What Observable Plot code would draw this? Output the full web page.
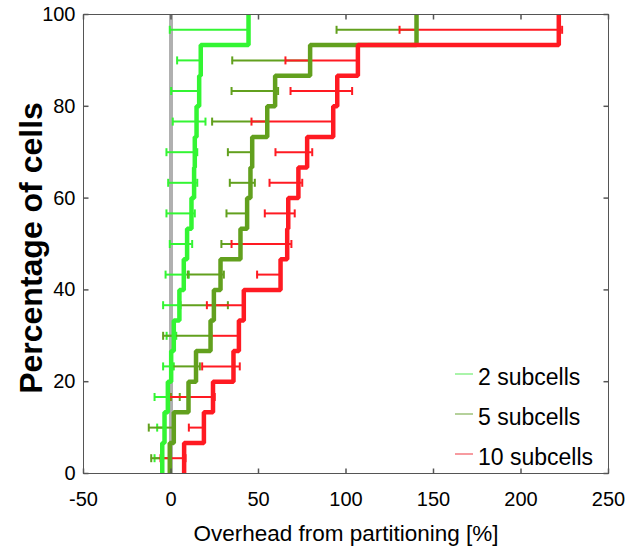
<!DOCTYPE html>
<html>
<head>
<meta charset="utf-8">
<script src="https://cdn.jsdelivr.net/npm/d3@7"></script>
<script src="https://cdn.jsdelivr.net/npm/@observablehq/plot@0.6"></script>
<style>
  body { margin: 0; background: #fff; }
  #chart svg { font-family: "Liberation Sans", Arial, Helvetica, sans-serif; }
</style>
</head>
<body>
<div id="chart"></div>
<script>
// Series shown: overhead per cell (sorted), with min/max range per cell.
const seriesNames = ["2 subcells", "5 subcells", "10 subcells"];
const seriesColors = ["#33f533", "#62a01e", "#ff1a22"];
const legendColors = ["#8ef08e", "#9cc27a", "#f47a80"];

// 2 subcells
const overhead2 = [-5, -3.7, -1.8, 0.1, 1.6, 4.8, 7.3, 9.2, 11.7, 13.2, 13.6, 14.6, 16.1, 17, 44.3];
const low2      = [-9.4, -7.9, -9.4, -4.5, -2.5, -4.5, -3.1, -0.7, -2.6, -1.6, -2.6, 1.0, 0.1, 3.5, -0.7];
const high2     = [-5, -3.7, -0.5, 1.6, 3, 5, 10.2, 12.1, 13.6, 15, 15, 19.7, 16.1, 17, 44.3];

// 5 subcells
const overhead5 = [-0.7, 1.6, 10, 14.3, 22.6, 24.5, 28.3, 39.7, 43.5, 45.4, 46.4, 55, 59.5, 79.5, 140.3];
const low5      = [-11.3, -12.7, 0, 0.7, -4.5, 5.4, 9.6, 28.8, 31.7, 33.6, 32.5, 23.5, 34.6, 35, 94.6];
const high5     = [-0.7, 1.6, 5, 16.5, 22.6, 32.5, 30.2, 39.7, 43.5, 47.9, 46.4, 55, 61.2, 79.5, 140.3];

// 10 subcells
const overhead10 = [7.5, 18.8, 24, 35.7, 38.8, 41.6, 62.6, 66.4, 67, 72.8, 77.8, 92.7, 95, 106.8, 221.6];
const low10      = [-6, 10.2, -0.9, 17.8, 23, 20.5, 49.2, 34.6, 53.6, 56.3, 59.7, 46, 68.3, 65.4, 130.6];
const high10     = [8.3, 18.8, 25, 39.3, 38.8, 41.6, 62.6, 68.8, 70.7, 75, 80.7, 92.7, 103.5, 106.8, 223.5];

const xTicks = [-50, 0, 50, 100, 150, 200, 250];
const yTicks = [0, 20, 40, 60, 80, 100];

const series = [
  {name: seriesNames[0], color: seriesColors[0], v: overhead2, lo: low2, hi: high2},
  {name: seriesNames[1], color: seriesColors[1], v: overhead5, lo: low5, hi: high5},
  {name: seriesNames[2], color: seriesColors[2], v: overhead10, lo: low10, hi: high10}
];

// Empirical CDF as a staircase: each cell occupies one 1/n band of the y axis.
function stairs(s) {
  const n = s.v.length, pts = [];
  s.v.forEach((x, i) => {
    pts.push({x, y: i * 100 / n});
    pts.push({x, y: (i + 1) * 100 / n});
  });
  return pts;
}
function ranges(s) {
  const n = s.v.length;
  return s.v.map((x, i) => ({lo: s.lo[i], hi: s.hi[i], y: (i + 0.5) * 100 / n}));
}

// Vertical cap for the range bars, and inward tick shapes for the frame.
const cap = {draw(ctx, size) { const h = Math.sqrt(size / Math.PI); ctx.moveTo(0, -h); ctx.lineTo(0, h); }};
const tickUp = {draw(ctx, size) { const h = Math.sqrt(size / Math.PI); ctx.moveTo(0, 0); ctx.lineTo(0, -h); }};
const tickDown = {draw(ctx, size) { const h = Math.sqrt(size / Math.PI); ctx.moveTo(0, 0); ctx.lineTo(0, h); }};
const tickRight = {draw(ctx, size) { const h = Math.sqrt(size / Math.PI); ctx.moveTo(0, 0); ctx.lineTo(h, 0); }};
const tickLeft = {draw(ctx, size) { const h = Math.sqrt(size / Math.PI); ctx.moveTo(0, 0); ctx.lineTo(-h, 0); }};

const marks = [
  Plot.ruleX([0], {y1: 0, y2: 100, stroke: "#b0b0b0", strokeWidth: 4}),
];
for (const s of series) {
  const r = ranges(s);
  marks.push(
    Plot.ruleY(r, {y: "y", x1: "lo", x2: "hi", stroke: s.color, strokeWidth: 2}),
    Plot.dot(r, {x: "lo", y: "y", symbol: cap, r: 4, stroke: s.color, strokeWidth: 2, fill: "none"}),
    Plot.dot(r, {x: "hi", y: "y", symbol: cap, r: 4, stroke: s.color, strokeWidth: 2, fill: "none"})
  );
}
for (const s of series) {
  marks.push(Plot.line(stairs(s), {x: "x", y: "y", stroke: s.color, strokeWidth: 4.5, strokeLinejoin: "miter", strokeLinecap: "butt"}));
}
marks.push(
  Plot.frame({stroke: "#555", strokeWidth: 1}),
  Plot.dot(xTicks, {x: d => d, frameAnchor: "bottom", symbol: tickUp, r: 5, stroke: "#555", fill: "none"}),
  Plot.dot(xTicks, {x: d => d, frameAnchor: "top", symbol: tickDown, r: 5, stroke: "#555", fill: "none"}),
  Plot.dot(yTicks, {y: d => d, frameAnchor: "left", symbol: tickRight, r: 5, stroke: "#555", fill: "none"}),
  Plot.dot(yTicks, {y: d => d, frameAnchor: "right", symbol: tickLeft, r: 5, stroke: "#555", fill: "none"}),
  Plot.axisX({ticks: xTicks, tickSize: 0, tickPadding: 18, fontSize: 20, tickFormat: d => String(d), label: null}),
  Plot.axisY({ticks: yTicks, tickSize: 0, tickPadding: 8, fontSize: 20, tickFormat: d => String(d), label: null}),
  Plot.text(["Overhead from partitioning [%]"], {frameAnchor: "bottom", dy: 67, fontSize: 22.5, fill: "#000"}),
  Plot.text(["Percentage of cells"], {frameAnchor: "left", dx: -52, dy: 4, rotate: -90, textAnchor: "middle", fontSize: 32, fontWeight: "bold", fill: "#000"})
);

const chart = Plot.plot({
  width: 637,
  height: 557,
  marginLeft: 83,
  marginRight: 29,
  marginTop: 14,
  marginBottom: 84,
  style: {color: "#000", background: "#fff"},
  x: {domain: [-50, 250]},
  y: {domain: [0, 100]},
  marks
});

// In-plot legend, lower right
const svg = d3.select(chart);
const leg = svg.append("g").attr("font-size", 23).attr("text-anchor", "start")
  .attr("font-family", "Liberation Sans, Arial, sans-serif");
series.forEach((s, i) => {
  const yy = 374 + i * 40;
  leg.append("line").attr("x1", 455).attr("x2", 473).attr("y1", yy).attr("y2", yy)
    .attr("stroke", legendColors[i]).attr("stroke-width", 1.5);
  leg.append("text").attr("x", 478).attr("y", yy + 3).attr("dy", "0.35em").attr("fill", "#000").text(s.name);
});

document.getElementById("chart").append(chart);
</script>
</body>
</html>
